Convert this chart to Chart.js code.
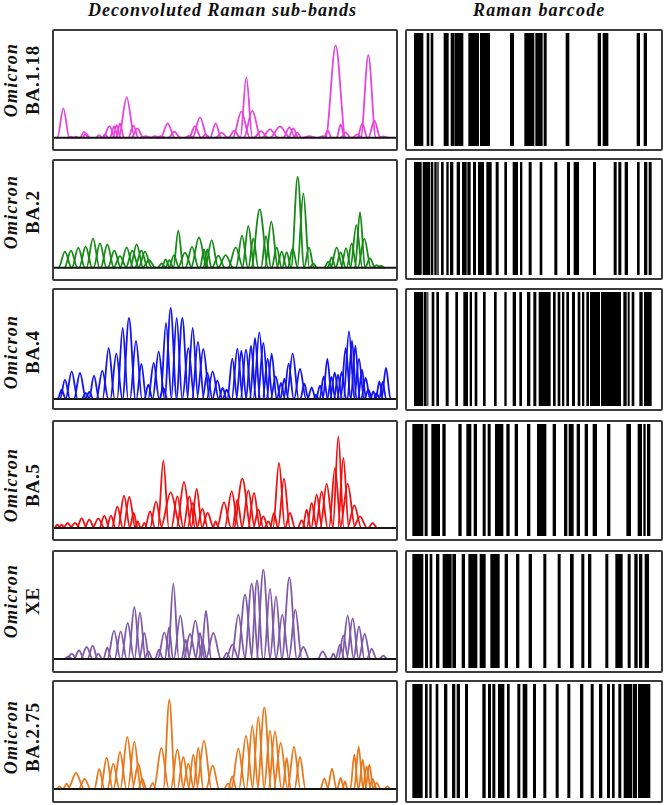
<!DOCTYPE html>
<html>
<head>
<meta charset="utf-8">
<script src="https://cdn.jsdelivr.net/npm/chart.js@4"></script>
<style>
  html, body { margin: 0; padding: 0; background: #fff; }
  body { position: relative; width: 664px; height: 805px; overflow: hidden; font-family: "Liberation Serif", serif; color: #111; }
  .heading { position: absolute; top: -1px; font: italic bold 18px "Liberation Serif", serif; white-space: nowrap; line-height: 22px; }
  .frame { position: absolute; box-sizing: border-box; border: 2px solid #3c3c3c; border-radius: 2px; background: #fff; }
  .frame canvas { filter: blur(0.45px); }
  .vlabel { position: absolute; white-space: nowrap; font-size: 19px; font-weight: bold; line-height: 20px; letter-spacing: 0.8px; transform: translate(-50%, -50%) rotate(-90deg); }
  .vlabel.virus { font-size: 18px; font-style: italic; letter-spacing: 1.2px; }
</style>
</head>
<body>
<div class="heading" style="left:88px;letter-spacing:1px">Deconvoluted Raman sub-bands</div>
<div class="heading" style="left:473px;letter-spacing:1.15px">Raman barcode</div>
<script>
// Variant names, top to bottom
const variants = ['BA.1.18', 'BA.2', 'BA.4', 'BA.5', 'XE', 'BA.2.75'];
const familyName = 'Omicron';

// Sub-band positions, heights and half widths (arbitrary units)
const ba118Centers = [190, 212, 228, 252, 258, 297, 315, 328, 342, 350, 360, 380, 400, 412, 437, 465, 482, 503, 523, 568, 585, 600, 617, 647, 665, 703, 724, 739, 757, 783, 810, 840, 868, 880, 892, 928, 968, 983, 1007, 1022, 1037, 1072, 1087, 1105, 1123, 1150];
const ba118Heights = [88, 3, 3, 18, 12, 8, 10, 35, 35, 38, 43, 121, 37, 28, 5, 5, 5, 43, 18, 6, 35, 61, 10, 43, 15, 21, 78, 181, 81, 20, 25, 33, 31, 28, 15, 5, 5, 21, 277, 40, 16, 10, 43, 248, 51, 4];
const ba118Widths = [12, 6, 6, 8, 8, 6, 6, 12, 8, 8, 8, 16, 10, 12, 10, 8, 8, 14, 12, 8, 12, 15, 8, 11, 12, 12, 17, 12, 17, 14, 16, 20, 12, 10, 8, 12, 8, 8, 20, 8, 10, 10, 10, 15, 12, 10];

const ba2Centers = [195, 213, 235, 257, 279, 300, 322, 343, 360, 380, 397, 410, 424, 435, 447, 485, 497, 508, 522, 535, 555, 576, 597, 612, 622, 635, 655, 677, 707, 726, 745, 760, 779, 798, 814, 830, 845, 860, 878, 893, 910, 927, 940, 985, 995, 1010, 1022, 1038, 1055, 1069, 1080, 1093, 1110, 1130, 1143];
const ba2Heights = [48, 51, 60, 63, 88, 73, 70, 51, 35, 61, 51, 70, 51, 48, 23, 13, 25, 23, 38, 111, 45, 63, 91, 55, 55, 83, 36, 38, 61, 96, 125, 88, 175, 95, 138, 61, 48, 47, 58, 273, 223, 61, 13, 18, 31, 61, 46, 59, 73, 128, 167, 87, 28, 8, 6];
const ba2Widths = [13, 13, 13, 13, 13, 13, 13, 13, 13, 13, 13, 13, 13, 13, 13, 8, 8, 8, 10, 10, 14, 13, 16, 8, 8, 13, 13, 15, 15, 12, 12, 10, 17, 10, 13, 10, 10, 9, 10, 13, 12, 10, 7, 8, 8, 12, 10, 10, 10, 12, 10, 13, 10, 8, 6];

const ba4Centers = [185, 195, 215, 240, 257, 268, 282, 307, 326, 349, 368, 387, 408, 424, 445, 461, 476, 490, 498, 512, 530, 547, 565, 578, 594, 610, 622, 638, 652, 668, 680, 697, 712, 724, 738, 753, 765, 778, 790, 803, 815, 827, 843, 853, 866, 878, 900, 913, 935, 948, 960, 971, 982, 994, 1004, 1014, 1025, 1037, 1047, 1056, 1066, 1077, 1086, 1097, 1105, 1120, 1130, 1138, 1148, 1158];
const ba4Heights = [28, 58, 83, 78, 18, 21, 70, 85, 153, 136, 213, 243, 175, 105, 43, 108, 143, 33, 228, 273, 243, 243, 153, 213, 171, 150, 78, 83, 55, 33, 28, 121, 151, 145, 148, 160, 183, 200, 168, 120, 135, 68, 48, 61, 106, 136, 90, 46, 35, 13, 40, 68, 120, 66, 80, 73, 81, 153, 203, 175, 160, 120, 88, 63, 28, 23, 18, 53, 51, 93];
const ba4Widths = [8, 10, 12, 12, 8, 8, 10, 12, 12, 12, 11, 13, 12, 10, 8, 11, 12, 8, 11, 12, 11, 12, 12, 11, 12, 13, 10, 12, 10, 8, 8, 10, 11, 10, 11, 10, 10, 12, 11, 10, 10, 10, 8, 8, 10, 12, 12, 8, 8, 5, 8, 8, 9, 8, 9, 8, 9, 10, 11, 9, 9, 10, 8, 9, 8, 6, 6, 7, 7, 9];

const ba5Centers = [172, 185, 203, 225, 245, 268, 295, 313, 333, 352, 372, 388, 401, 413, 433, 450, 468, 490, 512, 532, 552, 568, 578, 590, 607, 623, 647, 672, 695, 712, 727, 745, 762, 775, 790, 805, 822, 837, 852, 870, 905, 920, 935, 950, 965, 980, 1005, 1015, 1030, 1043, 1063, 1080, 1118];
const ba5Heights = [10, 10, 15, 15, 29, 25, 28, 37, 37, 65, 97, 93, 45, 20, 15, 50, 80, 202, 107, 95, 138, 95, 75, 117, 58, 45, 20, 77, 110, 85, 148, 113, 105, 55, 35, 20, 45, 195, 148, 45, 23, 55, 75, 100, 110, 132, 180, 275, 210, 132, 68, 35, 15];
const ba5Widths = [6, 6, 9, 10, 10, 10, 12, 10, 9, 11, 12, 12, 8, 6, 6, 10, 12, 11, 20, 12, 15, 12, 10, 11, 11, 12, 6, 14, 14, 10, 17, 13, 12, 10, 10, 8, 8, 12, 12, 10, 8, 8, 10, 11, 12, 13, 12, 11, 11, 15, 14, 14, 9];

const xeCenters = [205, 215, 237, 260, 278, 295, 322, 342, 362, 383, 403, 420, 433, 445, 477, 493, 507, 520, 541, 557, 570, 586, 600, 608, 618, 640, 680, 697, 715, 735, 755, 771, 790, 810, 828, 847, 868, 886, 910, 968, 1000, 1020, 1030, 1043, 1058, 1077, 1094, 1115, 1150];
const xeHeights = [8, 16, 26, 36, 40, 16, 35, 85, 83, 108, 156, 140, 78, 23, 28, 80, 95, 226, 130, 58, 75, 115, 78, 53, 145, 78, 18, 43, 133, 193, 226, 236, 268, 211, 188, 133, 245, 148, 36, 23, 16, 43, 71, 130, 122, 98, 75, 30, 10];
const xeWidths = [8, 10, 10, 12, 10, 8, 8, 13, 12, 13, 12, 11, 10, 8, 8, 13, 8, 11, 13, 8, 13, 14, 9, 8, 10, 15, 8, 13, 14, 15, 14, 12, 14, 12, 12, 13, 15, 13, 12, 10, 6, 9, 10, 12, 12, 11, 12, 10, 8];

const ba275Centers = [178, 200, 228, 254, 298, 320, 340, 360, 382, 403, 415, 427, 458, 484, 508, 532, 550, 565, 580, 595, 612, 638, 684, 697, 715, 738, 757, 775, 793, 810, 825, 842, 860, 882, 900, 973, 996, 1022, 1035, 1063, 1076, 1088, 1100, 1108, 1118, 1130, 1162];
const ba275Heights = [8, 16, 48, 30, 60, 94, 76, 111, 156, 142, 76, 30, 18, 123, 268, 118, 96, 76, 103, 123, 145, 71, 16, 38, 121, 160, 190, 216, 245, 175, 173, 138, 93, 126, 96, 32, 61, 33, 23, 103, 126, 88, 68, 73, 30, 18, 8];
const ba275Widths = [6, 7, 16, 12, 10, 12, 12, 13, 14, 13, 12, 8, 7, 15, 12, 13, 12, 11, 10, 10, 15, 13, 8, 8, 14, 14, 12, 12, 14, 12, 13, 14, 8, 13, 11, 8, 9, 7, 5, 8, 9, 8, 8, 8, 8, 8, 6];

// Barcode stripes as [start, end] on the same kind of arbitrary scale
const ba118Bars = [[42, 70], [80, 88], [92, 100], [131, 146], [152, 162], [163, 190], [205, 237], [240, 270], [330, 342], [373, 403], [406, 428], [431, 440], [497, 508], [593, 603], [608, 625], [710, 720], [731, 741]];
const ba2Bars = [[42, 65], [68, 90], [92, 100], [103, 110], [112, 116], [123, 131], [139, 146], [150, 160], [170, 180], [186, 200], [202, 212], [219, 228], [234, 252], [259, 275], [287, 296], [313, 321], [338, 354], [360, 367], [386, 395], [419, 427], [463, 472], [501, 510], [521, 537], [579, 588], [641, 650], [655, 664], [674, 684], [711, 719], [732, 742], [746, 755]];
const ba4Bars = [[42, 70], [72, 80], [82, 85], [95, 103], [109, 117], [137, 146], [166, 174], [190, 204], [209, 216], [224, 232], [249, 257], [282, 290], [313, 320], [338, 348], [358, 366], [381, 391], [400, 409], [416, 452], [459, 467], [473, 481], [486, 493], [499, 507], [516, 525], [533, 541], [546, 553], [559, 567], [570, 600], [603, 663], [670, 680], [683, 689], [695, 703], [718, 728], [732, 755]];
const ba5Bars = [[37, 70], [74, 83], [94, 120], [127, 137], [175, 185], [199, 214], [221, 231], [248, 257], [263, 272], [285, 310], [319, 329], [344, 354], [381, 391], [411, 439], [458, 468], [492, 502], [506, 521], [530, 540], [554, 564], [578, 591], [621, 631], [679, 693], [713, 726], [730, 737], [741, 751]];
const xeBars = [[37, 70], [75, 84], [89, 97], [108, 118], [128, 155], [157, 168], [185, 195], [205, 232], [239, 257], [271, 299], [314, 324], [348, 358], [386, 396], [430, 439], [473, 482], [510, 521], [544, 553], [564, 574], [616, 625], [646, 668], [683, 692], [703, 713], [717, 727], [734, 747]];
const ba275Bars = [[37, 68], [75, 83], [88, 95], [107, 115], [132, 142], [156, 166], [170, 180], [195, 204], [247, 257], [264, 273], [277, 286], [294, 313], [321, 329], [352, 361], [368, 382], [399, 408], [430, 439], [467, 476], [502, 511], [540, 550], [572, 581], [597, 607], [621, 630], [636, 644], [655, 664], [671, 697], [699, 711], [714, 751]];

const allCenters = [ba118Centers, ba2Centers, ba4Centers, ba5Centers, xeCenters, ba275Centers];
const allHeights = [ba118Heights, ba2Heights, ba4Heights, ba5Heights, xeHeights, ba275Heights];
const allWidths = [ba118Widths, ba2Widths, ba4Widths, ba5Widths, xeWidths, ba275Widths];
const allBars = [ba118Bars, ba2Bars, ba4Bars, ba5Bars, xeBars, ba275Bars];

// Page layout, one entry per row
const lineColors = ['#e545dc', '#158a15', '#1414ee', '#f01010', '#7f5aa8', '#e8781c'];
const rowTops = [29, 159, 288, 420, 550, 680];
const rowHeights = [122, 122, 122, 121, 123, 123];
const barRowTops = [29, 158, 288, 420, 550, 680];
const barRowHeights = [122, 122, 123, 121, 123, 123];
const baselineGaps = [11.3, 11.3, 9, 11, 12, 12];
const labelCenters = [80, 212, 352, 485, 601, 737];

// The widths were read near half height, the feet of a band sit further out
const footSpread = 1.5;

// Function to add a framed canvas to the page
function addFrame(left, top, width, height) {
    const frame = document.createElement('div');
    frame.className = 'frame';
    frame.style.cssText = `left:${left}px;top:${top}px;width:${width}px;height:${height}px`;
    const canvas = document.createElement('canvas');
    frame.appendChild(canvas);
    document.body.appendChild(frame);
    return { frame, canvas };
}

// Function to add one rotated text label
function addLabel(text, x, y, extraClass) {
    const label = document.createElement('div');
    label.className = `vlabel ${extraClass}`;
    label.textContent = text;
    label.style.left = `${x}px`;
    label.style.top = `${y}px`;
    document.body.appendChild(label);
}

// Function to draw the deconvoluted sub-bands of one variant
function drawBands(rowIndex) {
    const { frame, canvas } = addFrame(52, rowTops[rowIndex], 346, rowHeights[rowIndex]);
    const innerHeight = frame.clientHeight;
    const gap = baselineGaps[rowIndex];

    const bandSets = allCenters[rowIndex].map((center, i) => {
        const height = allHeights[rowIndex][i];
        const width = allWidths[rowIndex][i] * footSpread;
        return {
            data: [
                { x: center - width - 2, y: 0 },
                { x: center - width, y: 0 },
                { x: center, y: height },
                { x: center + width, y: 0 },
                { x: center + width + 2, y: 0 }
            ],
            borderColor: lineColors[rowIndex],
            borderWidth: 1.8,
            pointRadius: 0,
            cubicInterpolationMode: 'monotone'
        };
    });

    // First dataset is painted last, so the black baseline sits on top
    const baseline = {
        data: [{ x: 155, y: 0 }, { x: 1190, y: 0 }],
        borderColor: '#141414',
        borderWidth: 2,
        pointRadius: 0
    };

    new Chart(canvas, {
        type: 'line',
        data: { datasets: [baseline, ...bandSets] },
        options: {
            responsive: true,
            maintainAspectRatio: false,
            animation: false,
            plugins: { legend: { display: false }, tooltip: { enabled: false } },
            scales: {
                x: { type: 'linear', display: false, min: 162, max: 1188 },
                y: { type: 'linear', display: false, min: -gap * 3, max: (innerHeight - gap) * 3 }
            }
        }
    });
}

// Function to draw the barcode of one variant
function drawBarcode(rowIndex) {
    const { canvas } = addFrame(405, barRowTops[rowIndex], 258, barRowHeights[rowIndex]);
    const barSets = allBars[rowIndex].map(bar => ({
        data: [bar],
        backgroundColor: '#000',
        borderWidth: 0,
        inflateAmount: 0,
        grouped: false,
        barPercentage: 1,
        categoryPercentage: 1
    }));

    new Chart(canvas, {
        type: 'bar',
        data: { labels: [variants[rowIndex]], datasets: barSets },
        options: {
            indexAxis: 'y',
            responsive: true,
            maintainAspectRatio: false,
            animation: false,
            layout: { padding: { top: 2, bottom: 3 } },
            plugins: { legend: { display: false }, tooltip: { enabled: false } },
            scales: {
                x: { type: 'linear', display: false, min: 21, max: 783 },
                y: { type: 'category', display: false }
            }
        }
    });
}

variants.forEach((name, i) => {
    addLabel(familyName, 11, labelCenters[i], 'virus');
    addLabel(name, 33, labelCenters[i], 'strain');
    drawBands(i);
    drawBarcode(i);
});
</script>
</body>
</html>
